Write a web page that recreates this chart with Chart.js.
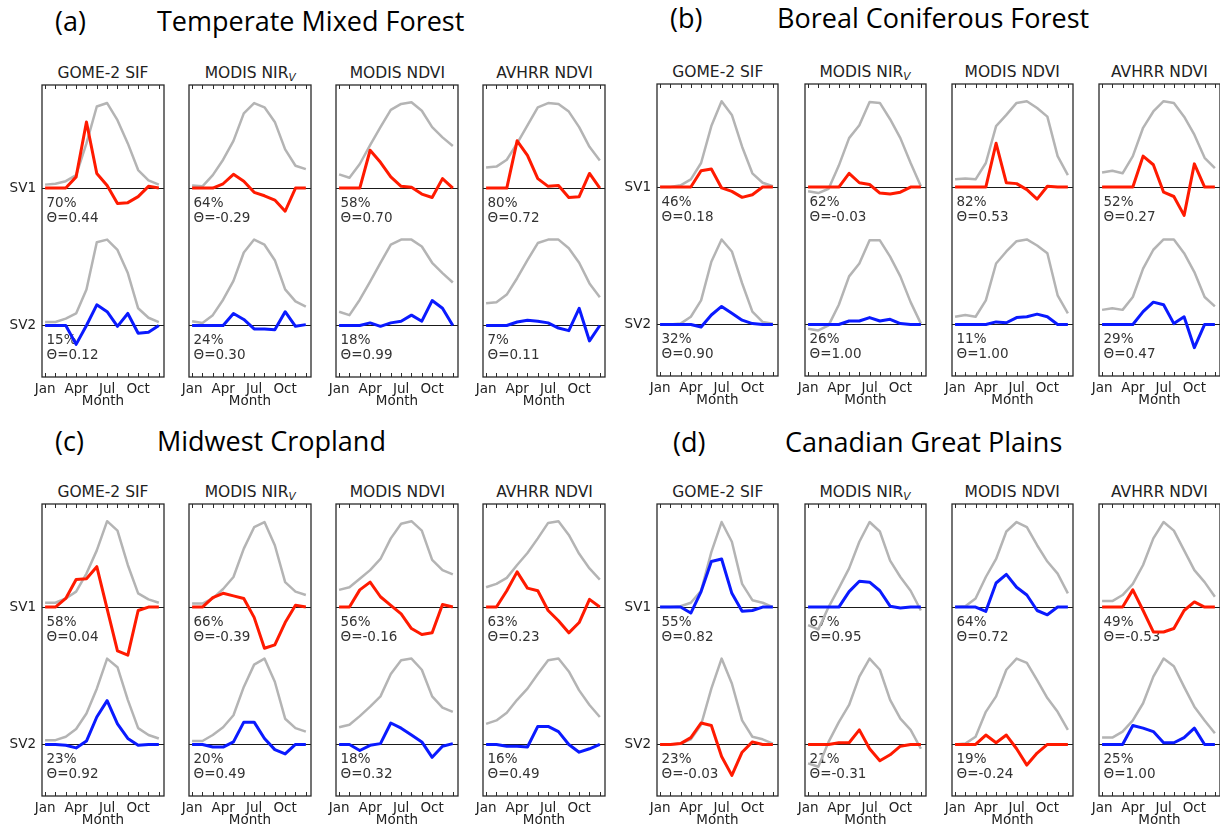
<!DOCTYPE html>
<html>
<head>
<meta charset="utf-8">
<script src="https://cdn.jsdelivr.net/npm/chart.js@4.4.1/dist/chart.umd.min.js"></script>
<style>
  body { margin: 0; width: 1220px; height: 831px; position: relative; overflow: hidden; background: #fff; font-family: "DejaVu Sans", sans-serif; }
  .tag, .region { position: absolute; font-family: "Open Sans", sans-serif; font-size: 27px; line-height: 27px; color: #000; white-space: nowrap; }
  .sub { position: absolute; text-align: center; font-size: 15.5px; line-height: 18px; color: #222; white-space: nowrap; }
  .sub i { font-size: 10.5px; position: relative; top: 3px; }
  canvas { position: absolute; }
</style>
</head>
<body>
<script>
// month axis
const months = ['Jan', 'Feb', 'Mar', 'Apr', 'May', 'Jun', 'Jul', 'Aug', 'Sep', 'Oct', 'Nov', 'Dec'];
const monthTicks = ['Jan', '', '', 'Apr', '', '', 'Jul', '', '', 'Oct', '', ''];

const regionTags = ['(a)', '(b)', '(c)', '(d)'];
const regions = ['Temperate Mixed Forest', 'Boreal Coniferous Forest', 'Midwest Cropland', 'Canadian Great Plains'];
const products = ['GOME-2 SIF', 'MODIS NIR', 'MODIS NDVI', 'AVHRR NDVI'];

// (a) Temperate Mixed Forest: climatology (gray) and singular vectors, one row per product
const tmfClimSV1 = [
  [0.04, 0.05, 0.08, 0.15, 0.52, 0.95, 0.99, 0.79, 0.52, 0.21, 0.09, 0.04],
  [0.03, 0.02, 0.15, 0.33, 0.55, 0.87, 0.99, 0.94, 0.77, 0.45, 0.26, 0.22],
  [0.16, 0.12, 0.28, 0.50, 0.71, 0.91, 0.98, 1.00, 0.90, 0.71, 0.59, 0.49],
  [0.24, 0.25, 0.33, 0.52, 0.73, 0.94, 0.99, 0.98, 0.89, 0.71, 0.48, 0.32]
];
const tmfSV1 = [
  [0, 0, 0, 0.13, 0.77, 0.17, 0.03, -0.18, -0.17, -0.10, 0.02, 0],
  [0, 0, 0, 0.05, 0.16, 0.08, -0.05, -0.09, -0.14, -0.27, 0, 0],
  [0, 0, 0, 0.44, 0.30, 0.13, 0.02, 0.01, -0.07, -0.11, 0.11, 0],
  [0, 0, 0, 0.55, 0.38, 0.11, 0.02, 0.03, -0.11, -0.10, 0.17, 0]
];
const tmfClimSV2 = [
  [0.04, 0.04, 0.08, 0.14, 0.42, 0.97, 1.00, 0.88, 0.61, 0.20, 0.09, 0.04],
  [0.05, 0.03, 0.12, 0.30, 0.52, 0.85, 1.00, 0.94, 0.76, 0.42, 0.28, 0.22],
  [0.16, 0.12, 0.30, 0.51, 0.73, 0.94, 1.00, 1.00, 0.92, 0.73, 0.61, 0.50],
  [0.26, 0.27, 0.36, 0.55, 0.76, 0.96, 1.00, 1.00, 0.90, 0.73, 0.49, 0.33]
];
const tmfSV2 = [
  [0, 0, 0, -0.22, 0, 0.24, 0.16, -0.01, 0.14, -0.09, -0.08, 0],
  [0, 0, 0, 0, 0.14, 0.07, -0.04, -0.04, -0.05, 0.16, -0.01, 0.01],
  [0, 0, 0, 0.03, -0.01, 0.03, 0.05, 0.12, 0.05, 0.29, 0.20, 0],
  [0, 0, 0, 0.04, 0.06, 0.05, 0.03, -0.03, -0.06, 0.20, -0.18, 0]
];
const tmfShare = [[70, 15], [64, 24], [58, 18], [80, 7]];
const tmfTheta = [[0.44, 0.12], [-0.29, 0.30], [0.70, 0.99], [0.72, 0.11]];

// (b) Boreal Coniferous Forest
const bcfClimSV1 = [
  [0, 0, 0.02, 0.09, 0.28, 0.71, 1.00, 0.84, 0.47, 0.16, 0.05, 0.01],
  [-0.05, -0.07, -0.02, 0.25, 0.57, 0.72, 0.99, 0.98, 0.79, 0.57, 0.28, 0.01],
  [0.09, 0.10, 0.09, 0.28, 0.71, 0.84, 0.98, 1.00, 0.92, 0.82, 0.36, 0.14],
  [0.17, 0.19, 0.16, 0.36, 0.69, 0.88, 1.00, 0.98, 0.82, 0.61, 0.34, 0.22]
];
const bcfSV1 = [
  [0, 0, 0, 0, 0.19, 0.21, -0.01, -0.05, -0.12, -0.09, 0, 0],
  [0, 0, 0, 0, 0.16, 0.05, 0.03, -0.07, -0.08, -0.06, 0, 0],
  [0, 0, 0, 0, 0.51, 0.05, 0.04, -0.03, -0.14, 0.01, 0, 0],
  [0, 0, 0, 0, 0.36, 0.26, -0.06, -0.11, -0.33, 0.27, 0, 0]
];
const bcfClimSV2 = [
  [0, 0, 0.01, 0.09, 0.28, 0.73, 0.99, 0.85, 0.48, 0.15, 0.03, 0.01],
  [-0.05, -0.07, -0.01, 0.23, 0.56, 0.71, 0.98, 0.98, 0.79, 0.56, 0.26, 0.01],
  [0.09, 0.11, 0.09, 0.28, 0.71, 0.85, 0.97, 0.99, 0.92, 0.83, 0.34, 0.13],
  [0.17, 0.19, 0.17, 0.32, 0.65, 0.87, 0.99, 0.99, 0.83, 0.61, 0.32, 0.21]
];
const bcfSV2 = [
  [0, 0, 0, 0, -0.03, 0.11, 0.21, 0.13, 0.05, 0.01, 0, 0],
  [0, 0, 0, 0, 0.04, 0.04, 0.08, 0.04, 0.06, 0.01, 0, 0],
  [0, 0, 0, 0, 0.03, 0.02, 0.08, 0.09, 0.12, 0.09, 0, 0],
  [0, 0, 0, 0, 0.15, 0.26, 0.23, 0.01, 0.09, -0.27, 0, 0]
];
const bcfShare = [[46, 32], [62, 26], [82, 11], [52, 29]];
const bcfTheta = [[0.18, 0.90], [-0.03, 1.00], [0.53, 1.00], [0.27, 0.47]];

// (c) Midwest Cropland
const mwcClimSV1 = [
  [0.05, 0.05, 0.10, 0.18, 0.39, 0.66, 1.00, 0.89, 0.49, 0.16, 0.09, 0.05],
  [0.04, 0.04, 0.10, 0.21, 0.35, 0.68, 0.93, 0.99, 0.72, 0.29, 0.18, 0.14],
  [0.20, 0.23, 0.33, 0.43, 0.56, 0.80, 0.97, 1.00, 0.89, 0.55, 0.43, 0.38],
  [0.23, 0.27, 0.34, 0.49, 0.63, 0.80, 0.98, 1.00, 0.84, 0.62, 0.45, 0.32]
];
const mwcSV1 = [
  [0, 0, 0.10, 0.32, 0.33, 0.47, -0.02, -0.51, -0.56, -0.04, 0, 0],
  [0, 0, 0.11, 0.16, 0.13, 0.10, -0.12, -0.48, -0.44, -0.18, 0.02, 0],
  [0, 0, 0.20, 0.29, 0.12, 0.02, -0.08, -0.25, -0.32, -0.30, 0.03, 0],
  [0, 0, 0.19, 0.41, 0.22, 0.19, -0.04, -0.16, -0.30, -0.18, 0.09, 0]
];
const mwcClimSV2 = [
  [0.05, 0.05, 0.09, 0.18, 0.36, 0.65, 1.00, 0.90, 0.52, 0.19, 0.11, 0.07],
  [0.04, 0.04, 0.11, 0.20, 0.34, 0.67, 0.93, 1.00, 0.73, 0.30, 0.19, 0.15],
  [0.20, 0.23, 0.33, 0.44, 0.56, 0.82, 0.98, 1.00, 0.87, 0.56, 0.43, 0.38],
  [0.24, 0.28, 0.37, 0.52, 0.65, 0.82, 0.98, 1.00, 0.85, 0.63, 0.46, 0.32]
];
const mwcSV2 = [
  [0, 0, -0.01, -0.04, 0.04, 0.32, 0.51, 0.24, 0.07, -0.01, 0, 0],
  [0, 0, -0.03, -0.03, 0.03, 0.26, 0.26, 0.07, -0.06, -0.11, 0, 0],
  [0, 0, -0.07, -0.01, 0.01, 0.25, 0.19, 0.11, 0.03, -0.15, -0.02, 0.01],
  [0, 0, -0.02, -0.02, -0.03, 0.21, 0.21, 0.15, 0, -0.09, -0.05, 0]
];
const mwcShare = [[58, 23], [66, 20], [56, 18], [63, 16]];
const mwcTheta = [[0.04, 0.92], [-0.39, 0.49], [-0.16, 0.32], [0.23, 0.49]];

// (d) Canadian Great Plains
const cgpClimSV1 = [
  [0, 0, 0.01, 0.05, 0.19, 0.64, 0.99, 0.76, 0.27, 0.08, 0.05, 0],
  [-0.21, -0.26, 0.00, 0.22, 0.45, 0.76, 0.99, 0.88, 0.54, 0.35, 0.19, -0.04],
  [0, 0.01, 0.10, 0.35, 0.56, 0.88, 0.99, 0.93, 0.72, 0.53, 0.39, 0.16],
  [0.07, 0.07, 0.14, 0.27, 0.49, 0.80, 0.99, 0.89, 0.66, 0.43, 0.29, 0.12]
];
const cgpSV1 = [
  [0, 0, 0, -0.07, 0.18, 0.53, 0.56, 0.16, -0.05, -0.04, 0, 0],
  [0, 0, 0, 0, 0.18, 0.30, 0.29, 0.19, 0.01, -0.01, 0, 0],
  [0, 0, 0, -0.05, 0.28, 0.38, 0.23, 0.14, -0.04, -0.09, 0, 0],
  [0, 0, 0, 0.20, -0.04, -0.29, -0.29, -0.25, -0.04, 0.06, 0, 0]
];
const cgpClimSV2 = [
  [0, 0, 0.01, 0.06, 0.23, 0.65, 1.00, 0.71, 0.28, 0.09, 0.06, 0.01],
  [-0.22, -0.26, 0.03, 0.26, 0.46, 0.79, 1.00, 0.87, 0.52, 0.30, 0.17, -0.05],
  [0, 0.01, 0.09, 0.38, 0.56, 0.87, 1.00, 0.95, 0.75, 0.54, 0.38, 0.17],
  [0.08, 0.08, 0.15, 0.28, 0.48, 0.79, 1.00, 0.91, 0.67, 0.44, 0.28, 0.13]
];
const cgpSV2 = [
  [0, 0, 0.01, 0.08, 0.25, 0.22, -0.14, -0.36, -0.09, 0.03, 0, 0],
  [0, 0, 0, 0.02, 0.02, 0.17, -0.05, -0.19, -0.12, -0.02, 0, 0],
  [0, 0, 0, 0.11, 0.02, 0.11, -0.05, -0.24, -0.10, 0, 0, 0],
  [0, 0, 0, 0.22, 0.19, 0.15, 0.02, 0.02, 0.08, 0.19, 0, 0]
];
const cgpShare = [[55, 23], [67, 21], [64, 19], [49, 25]];
const cgpTheta = [[0.82, -0.03], [0.95, -0.31], [0.72, -0.24], [-0.53, 1.00]];

// which colour each singular vector is drawn in
const sv1Colors = [
  ['red', 'red', 'red', 'red'],
  ['red', 'red', 'red', 'red'],
  ['red', 'red', 'red', 'red'],
  ['blue', 'blue', 'blue', 'red']
];

const climSV1 = [tmfClimSV1, bcfClimSV1, mwcClimSV1, cgpClimSV1];
const modeSV1 = [tmfSV1, bcfSV1, mwcSV1, cgpSV1];
const climSV2 = [tmfClimSV2, bcfClimSV2, mwcClimSV2, cgpClimSV2];
const modeSV2 = [tmfSV2, bcfSV2, mwcSV2, cgpSV2];
const shares = [tmfShare, bcfShare, mwcShare, cgpShare];
const thetas = [tmfTheta, bcfTheta, mwcTheta, cgpTheta];

// page layout
const palette = { red: '#ff1a00', blue: '#0a1aff', gray: '#b4b4b4' };
const panelLeft = [41.7, 657.3, 41.7, 657.3];
const panelTop = [85, 83.5, 504.3, 504.3];
const boxWidth = [122.5, 121, 122.5, 121];
const boxStep = 147.2;
const boxHeight = 292;
const tagPos = [[55, 6.7], [670, 4.3], [55, 427], [673, 427.7]];
const regionPos = [[157, 6.7], [777, 4.3], [157, 427], [785, 427.7]];
const xAxisHeight = 38, pad = 2;
const textFont = { family: 'DejaVu Sans', size: 13.5 };

// frame, month ticks and the share / theta notes
const framePlugin = {
  id: 'frame',
  beforeDatasetsDraw(chart, args, opts) {
    const { ctx, chartArea: a, scales } = chart;
    ctx.save();
    ctx.fillStyle = '#333';
    ctx.font = '13.5px "DejaVu Sans"';
    opts.notes.forEach(([axisId, share, theta]) => {
      const y0 = scales[axisId].getPixelForValue(0);
      ctx.fillText(share + '%', a.left + 4.5, y0 + 18.5);
      ctx.fillText('\u0398=' + theta.toFixed(2), a.left + 4.5, y0 + 34);
    });
    ctx.restore();
  },
  afterDraw(chart) {
    const { ctx, chartArea: a, scales } = chart;
    ctx.save();
    ctx.strokeStyle = '#2a2a2a';
    ctx.lineWidth = 1;
    months.forEach((m, i) => {
      const x = Math.round(scales.x.getPixelForValue(i)) + 0.5;
      ctx.beginPath();
      ctx.moveTo(x, a.top); ctx.lineTo(x, a.top + 4);
      ctx.moveTo(x, a.bottom); ctx.lineTo(x, a.bottom - 4);
      ctx.stroke();
    });
    ctx.lineWidth = 1.3;
    ctx.strokeRect(a.left, a.top, a.width, a.height);
    ctx.restore();
  }
};

function addText(cls, html, left, top, width) {
  const el = document.createElement('div');
  el.className = cls;
  el.innerHTML = html;
  el.style.left = left + 'px';
  el.style.top = top + 'px';
  if (width) el.style.width = width + 'px';
  document.body.appendChild(el);
}

function yAxis(min, max, label, yW, showLabel) {
  return {
    type: 'linear', position: 'left', stack: 'sv', stackWeight: 1,
    min: min, max: max,
    afterBuildTicks: s => { s.ticks = [{ value: 0 }]; },
    afterFit: s => { s.width = yW; s.paddingTop = 0; s.paddingBottom = 0; },
    grid: { color: '#1a1a1a', lineWidth: 1, drawTicks: false },
    border: { display: false },
    ticks: { display: showLabel, padding: 6, color: '#222', font: textFont, callback: () => label }
  };
}

const toPoints = arr => arr.map((v, i) => ({ x: i, y: v }));

regions.forEach((region, r) => {
  addText('tag', regionTags[r], tagPos[r][0], tagPos[r][1]);
  addText('region', region, regionPos[r][0], regionPos[r][1]);

  products.forEach((product, p) => {
    const left = panelLeft[r] + p * boxStep;
    const top = panelTop[r];
    const w = boxWidth[r];
    const first = p === 0;
    const yW = first ? 40 : 14;

    const title = product === 'MODIS NIR' ? 'MODIS NIR<i>V</i>' : product;
    addText('sub', title, left, top - 21, w);

    const canvas = document.createElement('canvas');
    canvas.width = pad + yW + w + pad + 1;
    canvas.height = pad + boxHeight + xAxisHeight;
    canvas.style.left = (left - yW - pad) + 'px';
    canvas.style.top = (top - pad) + 'px';
    document.body.appendChild(canvas);

    const c1 = palette[sv1Colors[r][p]];
    const c2 = sv1Colors[r][p] === 'red' ? palette.blue : palette.red;
    const line = (data, axis, color, width) => ({
      data: toPoints(data), yAxisID: axis, borderColor: color, borderWidth: width,
      pointRadius: 0, tension: 0, fill: false, borderJoinStyle: 'round', clip: false
    });

    new Chart(canvas, {
      type: 'line',
      data: {
        datasets: [
          line(modeSV1[r][p], 'y1', c1, 3),
          line(climSV1[r][p], 'y1', palette.gray, 2.5),
          line(modeSV2[r][p], 'y2', c2, 3),
          line(climSV2[r][p], 'y2', palette.gray, 2.5)
        ]
      },
      options: {
        responsive: false,
        animation: false,
        events: [],
        layout: { padding: { left: pad, right: pad + 1, top: pad, bottom: 0 } },
        plugins: {
          legend: { display: false },
          tooltip: { enabled: false },
          frame: { notes: [['y1', shares[r][p][0], thetas[r][p][0]], ['y2', shares[r][p][1], thetas[r][p][1]]] }
        },
        scales: {
          x: {
            type: 'linear', min: -0.3, max: 11.5,
            afterBuildTicks: s => { s.ticks = monthTicks.map((t, i) => ({ value: i })); },
            afterFit: s => { s.height = xAxisHeight; },
            grid: { display: false },
            border: { display: false },
            ticks: { autoSkip: false, maxRotation: 0, padding: -4, color: '#222', font: textFont, callback: v => monthTicks[v] },
            title: { display: true, text: 'Month', color: '#222', font: textFont, padding: { top: 0, bottom: 5 } }
          },
          // stacked scales are placed bottom-up, so SV2 is listed first
          y2: yAxis(-0.6, 1.1, 'SV2', yW, first),
          y1: yAxis(-0.5, 1.2, 'SV1', yW, first)
        }
      },
      plugins: [framePlugin]
    });
  });
});
</script>
</body>
</html>
